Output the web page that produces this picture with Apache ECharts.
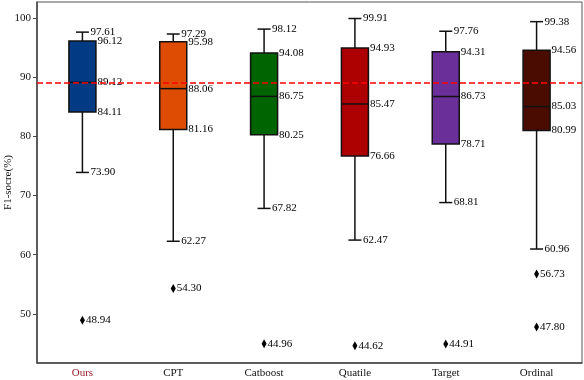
<!DOCTYPE html>
<html>
<head>
<meta charset="utf-8">
<script src="https://cdn.jsdelivr.net/npm/echarts@6/dist/echarts.min.js"></script>
<style>
  html, body { margin: 0; padding: 0; background: #fff; }
  #chart { width: 584px; height: 380px; }
</style>
</head>
<body>
<div id="chart"></div>
<script>
// 类别
const categories = ['Ours', 'CPT', 'Catboost', 'Quatile', 'Target', 'Ordinal']
// 箱线五数: 最小值, 下四分位, 中位数, 上四分位, 最大值
const minValues = [73.90, 62.27, 67.82, 62.47, 68.81, 60.96]
const q1Values = [84.11, 81.16, 80.25, 76.66, 78.71, 80.99]
const medianValues = [89.12, 88.06, 86.75, 85.47, 86.73, 85.03]
const q3Values = [96.12, 95.98, 94.08, 94.93, 94.31, 94.56]
const maxValues = [97.61, 97.29, 98.12, 99.91, 97.76, 99.38]
// 异常点 [类别下标, 值]
const outliers = [[0, 48.94], [1, 54.30], [2, 44.96], [3, 44.62], [4, 44.91], [5, 56.73], [5, 47.80]]
const boxColors = ['#023a84', '#de4b02', '#006400', '#ad0000', '#6a2f98', '#4b0c00']
const yTicks = [50, 60, 70, 80, 90, 100]
const refLine = 89.12

const font = 'Liberation Serif'

let boxData = categories.map((c, i) => [i, minValues[i], q1Values[i], medianValues[i], q3Values[i], maxValues[i]])

function renderBox(params, api) {
  let idx = api.value(0)
  let x = api.coord([idx, 0])[0]
  let yMin = api.coord([idx, api.value(1)])[1]
  let yQ1 = api.coord([idx, api.value(2)])[1]
  let yMed = api.coord([idx, api.value(3)])[1]
  let yQ3 = api.coord([idx, api.value(4)])[1]
  let yMax = api.coord([idx, api.value(5)])[1]
  let half = 13.5
  let cap = 6.5
  let line = { stroke: '#111', lineWidth: 1.5 }
  let label = (val, y, dx) => ({
    type: 'text',
    style: {
      text: val.toFixed(2), x: x + dx, y: y,
      fill: '#000', font: '11px "' + font + '"',
      verticalAlign: 'middle', align: 'left'
    }
  })
  return {
    type: 'group',
    children: [
      { type: 'line', shape: { x1: x, y1: yMin, x2: x, y2: yQ1 }, style: line },
      { type: 'line', shape: { x1: x, y1: yQ3, x2: x, y2: yMax }, style: line },
      { type: 'line', shape: { x1: x - cap, y1: yMin, x2: x + cap, y2: yMin }, style: line },
      { type: 'line', shape: { x1: x - cap, y1: yMax, x2: x + cap, y2: yMax }, style: line },
      { type: 'rect', shape: { x: x - half, y: yQ3, width: half * 2, height: yQ1 - yQ3 },
        style: { fill: boxColors[idx], stroke: '#111', lineWidth: 1.5 } },
      { type: 'line', shape: { x1: x - half, y1: yMed, x2: x + half, y2: yMed }, style: line },
      label(api.value(5), yMax, 8),
      label(api.value(4), yQ3, 15),
      label(api.value(3), yMed, 15),
      label(api.value(2), yQ1, 15),
      label(api.value(1), yMin, 8)
    ]
  }
}

let chart = echarts.init(document.getElementById('chart'))
chart.setOption({
  animation: false,
  grid: {
    left: 37, right: 2, top: 2, bottom: 17,
    outerBoundsMode: 'none',
    containLabel: false,
    show: true, borderColor: '#555', borderWidth: 1
  },
  xAxis: {
    type: 'category',
    data: categories,
    axisLine: { lineStyle: { color: '#444', width: 1.5 } },
    axisTick: { alignWithLabel: true, length: 4, lineStyle: { color: '#444' } },
    axisLabel: {
      margin: 5, fontFamily: font, fontSize: 11,
      color: function (value) { return value === 'Ours' ? '#9b1b30' : '#111' }
    },
    splitLine: { show: false }
  },
  yAxis: {
    type: 'value',
    min: 41.7,
    max: 102.7,
    name: 'F1-socre(%)',
    nameLocation: 'middle',
    nameGap: 23,
    nameMoveOverlap: false,
    nameTextStyle: { fontFamily: font, fontSize: 11, color: '#111' },
    axisLine: { show: true, lineStyle: { color: '#444', width: 1.5 } },
    axisTick: { show: true, length: 4, customValues: yTicks, lineStyle: { color: '#444' } },
    axisLabel: { fontFamily: font, fontSize: 11, color: '#111', margin: 6, customValues: yTicks },
    splitLine: { show: false }
  },
  series: [
    {
      type: 'custom',
      renderItem: renderBox,
      encode: { x: 0, y: [1, 2, 3, 4, 5] },
      data: boxData,
      z: 2
    },
    {
      type: 'scatter',
      symbol: 'diamond',
      symbolSize: [5, 9],
      itemStyle: { color: '#000', opacity: 1 },
      label: {
        show: true, position: 'right', distance: 1,
        fontFamily: font, fontSize: 11, color: '#000', opacity: 1,
        formatter: p => p.value[1].toFixed(2)
      },
      data: outliers,
      z: 5,
      markLine: {
        silent: true,
        symbol: 'none',
        label: { show: false },
        lineStyle: { color: '#ff0000', type: [6, 3], width: 1.5, opacity: 1 },
        data: [{ yAxis: refLine }]
      }
    }
  ]
})
</script>
</body>
</html>
